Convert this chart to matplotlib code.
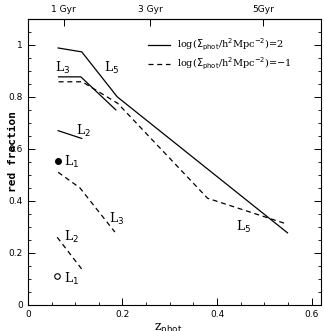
import matplotlib
matplotlib.use('Agg')
import matplotlib.pyplot as plt
from matplotlib.ticker import MultipleLocator

# L5 and L3 tracks for the two densities
z_l5_hi = [0.064, 0.114, 0.189, 0.549]
f_l5_hi = [0.988, 0.973, 0.80, 0.277]
z_l3_hi = [0.065, 0.112, 0.186]
f_l3_hi = [0.877, 0.877, 0.75]
z_l2_hi = [0.064, 0.114]
f_l2_hi = [0.67, 0.64]
z_l1_hi = [0.064]
f_l1_hi = [0.555]

z_l5_lo = [0.065, 0.115, 0.19, 0.38, 0.549]
f_l5_lo = [0.858, 0.858, 0.775, 0.41, 0.31]
z_l3_lo = [0.064, 0.11, 0.184]
f_l3_lo = [0.51, 0.45, 0.28]
z_l2_lo = [0.062, 0.115]
f_l2_lo = [0.26, 0.135]
z_l1_lo = [0.062]
f_l1_lo = [0.11]

age_z = [0.076, 0.258, 0.497]
age_labels = ['1 Gyr', '3 Gyr', '5Gyr']

plt.rcParams['font.family'] = ['DejaVu Sans']

fig = plt.figure(figsize=(3.24, 3.31), dpi=100)
ax = fig.add_axes([0.086, 0.079, 0.905, 0.864])

lw = 0.9
ax.plot(z_l5_hi, f_l5_hi, color='black', lw=lw)
ax.plot(z_l3_hi, f_l3_hi, color='black', lw=lw)
ax.plot(z_l2_hi, f_l2_hi, color='black', lw=lw)
ax.plot(z_l1_hi, f_l1_hi, 'o', color='black', ms=4)

ax.plot(z_l5_lo, f_l5_lo, color='black', lw=lw, ls=(0, (4, 3)))
ax.plot(z_l3_lo, f_l3_lo, color='black', lw=lw, ls=(0, (4, 3)))
ax.plot(z_l2_lo, f_l2_lo, color='black', lw=lw, ls=(0, (4, 3)))
ax.plot(z_l1_lo, f_l1_lo, 'o', mfc='white', mec='black', mew=0.8, ms=4)

lab = dict(fontsize=9, family='DejaVu Serif', va='center', ha='left')
ax.text(0.058, 0.91, r'L$_3$', **lab)
ax.text(0.162, 0.91, r'L$_5$', **lab)
ax.text(0.102, 0.67, r'L$_2$', **lab)
ax.text(0.076, 0.55, r'L$_1$', **lab)
ax.text(0.172, 0.33, r'L$_3$', **lab)
ax.text(0.076, 0.26, r'L$_2$', **lab)
ax.text(0.076, 0.10, r'L$_1$', **lab)
ax.text(0.44, 0.30, r'L$_5$', **lab)

# legend drawn by hand
ax.plot([0.255, 0.3], [1.0, 1.0], color='black', lw=lw)
ax.plot([0.255, 0.3], [0.925, 0.925], color='black', lw=lw, ls=(0, (4, 3)))
leg = dict(fontsize=7, family='DejaVu Serif', va='center', ha='left')
ax.text(0.315, 1.0, r'log($\Sigma_{\rm phot}$/h$^2$Mpc$^{-2}$)=2', **leg)
ax.text(0.315, 0.925, r'log($\Sigma_{\rm phot}$/h$^2$Mpc$^{-2}$)=$-$1', **leg)

ax.set_xlim(0, 0.62)
ax.set_ylim(0, 1.1)
ax.xaxis.set_major_locator(MultipleLocator(0.2))
ax.xaxis.set_minor_locator(MultipleLocator(0.05))
ax.yaxis.set_major_locator(MultipleLocator(0.2))
ax.yaxis.set_minor_locator(MultipleLocator(0.05))
ax.set_xticks([0, 0.2, 0.4, 0.6])
ax.set_xticklabels(['0', '0.2', '0.4', '0.6'])
ax.set_yticks([0, 0.2, 0.4, 0.6, 0.8, 1.0])
ax.set_yticklabels(['0', '0.2', '0.4', '0.6', '0.8', '1'])
ax.tick_params(which='both', direction='in', right=True, top=False, labelsize=6.5)
ax.tick_params(which='major', length=5, width=0.7)
ax.tick_params(which='minor', length=2.5, width=0.6)
for s in ax.spines.values():
    s.set_linewidth(0.8)

top = ax.secondary_xaxis('top')
top.set_xticks(age_z)
top.set_xticklabels(age_labels)
top.tick_params(direction='in', length=5, width=0.7, labelsize=6.5)

ax.set_xlabel(r'z$_{\rm phot}$', fontsize=9, family='DejaVu Serif')
ax.xaxis.set_label_coords(0.48, -0.055)
ax.set_ylabel('red fraction', fontsize=8, family='DejaVu Sans Mono', fontweight='bold')
ax.yaxis.set_label_coords(-0.035, 0.535)

fig.savefig('out.png', dpi=100)
